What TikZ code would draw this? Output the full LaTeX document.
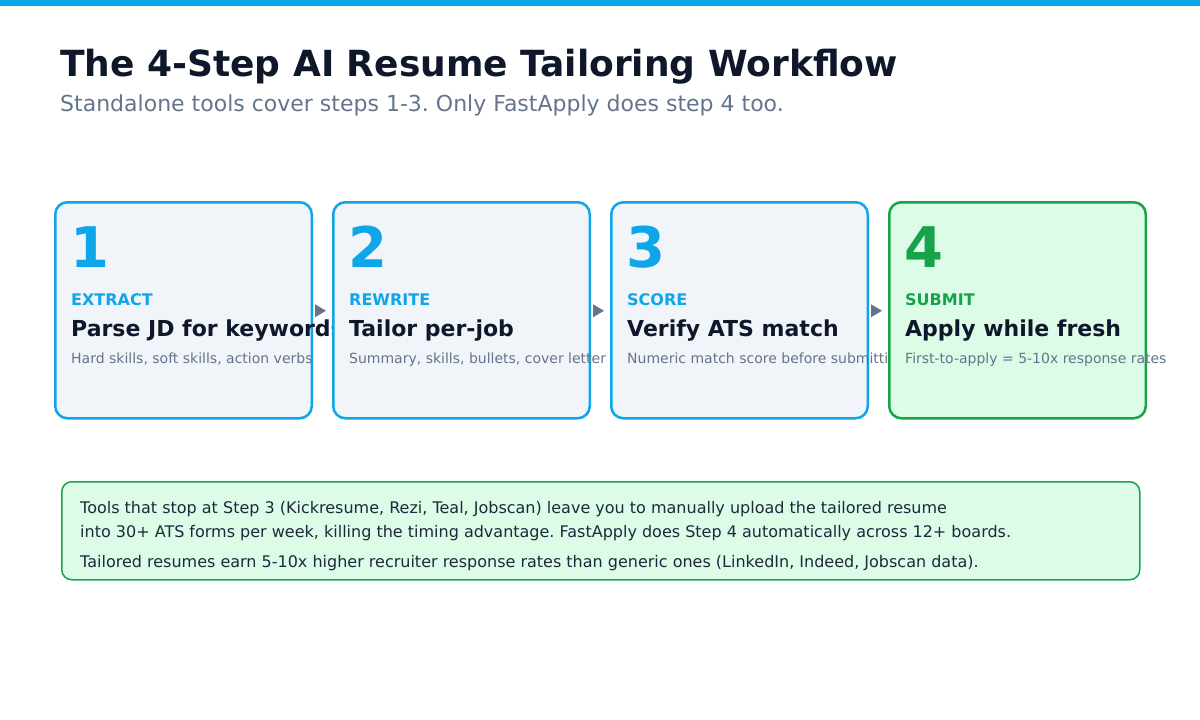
\documentclass[tikz,border=0pt]{standalone}
\usepackage{fontspec}
\setmainfont{DejaVu Sans}
\usetikzlibrary{calc}
\frenchspacing

\definecolor{skyline}{HTML}{0EA5E9}
\definecolor{greenline}{HTML}{16A34A}
\definecolor{slatefill}{HTML}{F1F5F9}
\definecolor{greenfill}{HTML}{DCFCE7}
\definecolor{inkdark}{HTML}{0F172A}
\definecolor{inkgray}{HTML}{64748B}
\definecolor{inkbody}{HTML}{1E293B}

\newcommand{\fs}[1]{\fontsize{#1}{#1}\selectfont}

\begin{document}
\begin{tikzpicture}[x=1pt, y=-1pt,
	stepbox/.style={draw=skyline, fill=slatefill, line width=2.5pt, rounded corners=12pt,
		minimum width=256.5pt, minimum height=216pt, anchor=north west, inner sep=0pt},
	lastbox/.style={stepbox, draw=greenline, fill=greenfill},
	stepnum/.style={anchor=base west, inner sep=0pt, font=\fs{56}\bfseries},
	steptag/.style={anchor=base west, inner sep=0pt, font=\fs{16}\bfseries},
	stephead/.style={anchor=base west, inner sep=0pt, font=\fs{22}\bfseries, text=inkdark},
	stepnote/.style={anchor=base west, inner sep=0pt, font=\fs{14}, text=inkgray},
	steparrow/.style={fill=inkgray}]

	\useasboundingbox (0, 0) rectangle (1200, 720);
	\fill [skyline] (0, 0) rectangle (1200, 6);

	% title
	\node [anchor=base west, inner sep=0pt, font=\fs{36}\bfseries, text=inkdark] (title) at (60, 76) {The 4-Step AI Resume Tailoring Workflow};
	\node [anchor=base west, inner sep=0pt, font=\fs{22}, text=inkgray] (subtitle) at (60, 111) {Standalone tools cover steps 1-3. Only FastApply does step 4 too.};

	% step 1
	\node [stepbox] (b1) at (54, 201) {};
	\node [stepnum, text=skyline] (n1) at ($(b1.north west)+(16, 66)$) {1};
	\node [steptag, text=skyline] (t1) at ($(b1.north west)+(17, 104)$) {EXTRACT};
	\node [stephead] (h1) at ($(b1.north west)+(17, 135)$) {Parse JD for keywords};
	\node [stepnote] (d1) at ($(b1.north west)+(17, 162)$) {Hard skills, soft skills, action verbs};
	\fill [steparrow] ($(b1.east)+(2, -6)$) -- ++(11, 6.5) -- ++(-11, 6.5) -- cycle;

	% step 2
	\node [stepbox] (b2) at (332, 201) {};
	\node [stepnum, text=skyline] (n2) at ($(b2.north west)+(16, 66)$) {2};
	\node [steptag, text=skyline] (t2) at ($(b2.north west)+(17, 104)$) {REWRITE};
	\node [stephead] (h2) at ($(b2.north west)+(17, 135)$) {Tailor per-job};
	\node [stepnote] (d2) at ($(b2.north west)+(17, 162)$) {Summary, skills, bullets, cover letter};
	\fill [steparrow] ($(b2.east)+(2, -6)$) -- ++(11, 6.5) -- ++(-11, 6.5) -- cycle;

	% step 3
	\node [stepbox] (b3) at (610, 201) {};
	\node [stepnum, text=skyline] (n3) at ($(b3.north west)+(16, 66)$) {3};
	\node [steptag, text=skyline] (t3) at ($(b3.north west)+(17, 104)$) {SCORE};
	\node [stephead] (h3) at ($(b3.north west)+(17, 135)$) {Verify ATS match};
	\node [stepnote] (d3) at ($(b3.north west)+(17, 162)$) {Numeric match score before submitting};
	\fill [steparrow] ($(b3.east)+(2, -6)$) -- ++(11, 6.5) -- ++(-11, 6.5) -- cycle;

	% step 4
	\node [lastbox] (b4) at (888, 201) {};
	\node [stepnum, text=greenline] (n4) at ($(b4.north west)+(16, 66)$) {4};
	\node [steptag, text=greenline] (t4) at ($(b4.north west)+(17, 104)$) {SUBMIT};
	\node [stephead] (h4) at ($(b4.north west)+(17, 135)$) {Apply while fresh};
	\node [stepnote] (d4) at ($(b4.north west)+(17, 162)$) {First-to-apply = 5-10x response rates};

	% note box
	\node [draw=greenline, fill=greenfill, line width=1.5pt, rounded corners=10pt, anchor=north west,
		minimum width=1078pt, minimum height=98pt, inner sep=0pt] (note) at (61, 481) {};
	\node [anchor=base west, inner sep=0pt, font=\fs{16}, text=inkbody] (l1) at ($(note.north west)+(19, 32)$) {Tools that stop at Step 3 (Kickresume, Rezi, Teal, Jobscan) leave you to manually upload the tailored resume};
	\node [anchor=base west, inner sep=0pt, font=\fs{16}, text=inkbody] (l2) at ($(note.north west)+(19, 56)$) {into 30+ ATS forms per week, killing the timing advantage. FastApply does Step 4 automatically across 12+ boards.};
	\node [anchor=base west, inner sep=0pt, font=\fs{16}, text=inkbody] (l3) at ($(note.north west)+(19, 86)$) {Tailored resumes earn 5-10x higher recruiter response rates than generic ones (LinkedIn, Indeed, Jobscan data).};

\end{tikzpicture}
\end{document}
